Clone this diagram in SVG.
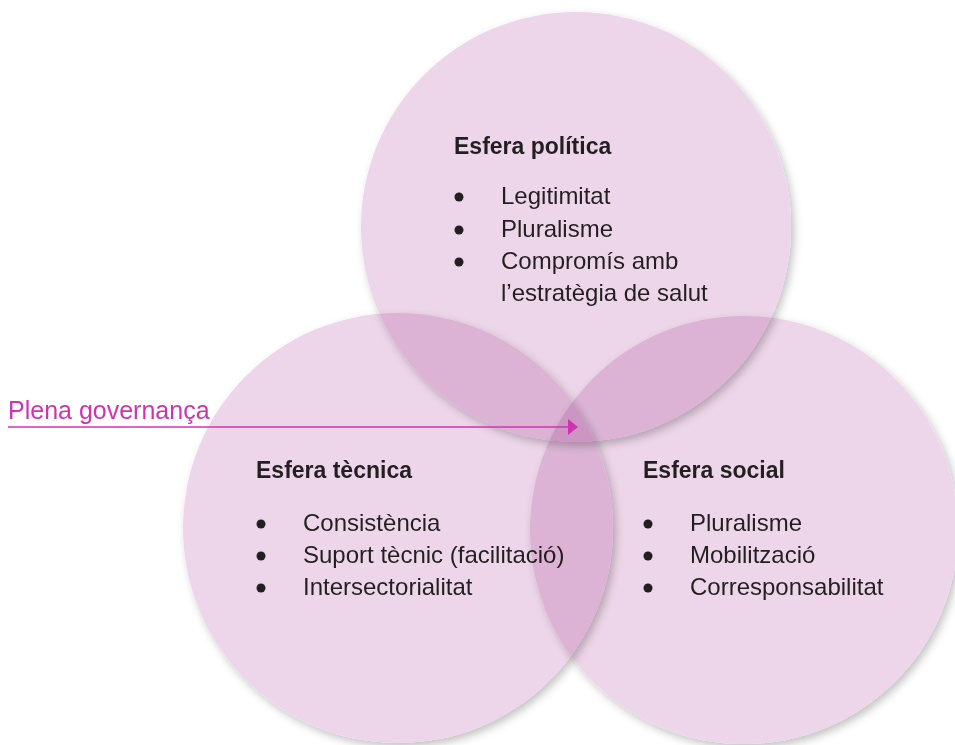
<svg xmlns="http://www.w3.org/2000/svg" width="955" height="745" viewBox="0 0 955 745">
  <defs>
    <filter id="sh" x="-10%" y="-10%" width="125%" height="125%">
      <feDropShadow dx="3" dy="4" stdDeviation="4.5" flood-color="#000" flood-opacity="0.24"/>
    </filter>
    <marker id="ah" viewBox="0 0 10 16" refX="9" refY="8" markerWidth="10" markerHeight="16" markerUnits="userSpaceOnUse" orient="auto">
      <path d="M0,0 L10,8 L0,16 Z" fill="#cf33b4"/>
    </marker>
  </defs>
  <style>
    .c { fill: #EDD6E9; mix-blend-mode: multiply; filter: url(#sh); }
    .t { font-family: "Liberation Sans", Arial, Helvetica, sans-serif; font-size: 23px; font-weight: bold; fill: #231f20; }
    .i { font-family: "Liberation Sans", Arial, Helvetica, sans-serif; font-size: 24px; fill: #231f20; }
    .b { fill: #231f20; }
    .lab { font-family: "Liberation Sans", Arial, Helvetica, sans-serif; font-size: 25px; fill: #cf33b4; }
  </style>
  <rect width="955" height="745" fill="#ffffff"/>

  <g id="esfera-politica">
    <circle class="c" cx="576" cy="227" r="215"/>
    <text class="t" x="454" y="154">Esfera política</text>
    <circle class="b" cx="459" cy="197" r="4.5"/>
    <text class="i" x="501" y="204">Legitimitat</text>
    <circle class="b" cx="459" cy="230" r="4.5"/>
    <text class="i" x="501" y="237">Pluralisme</text>
    <circle class="b" cx="459" cy="262" r="4.5"/>
    <text class="i" x="501" y="269">Compromís amb</text>
    <text class="i" x="501" y="301">l’estratègia de salut</text>
  </g>

  <g id="esfera-tecnica">
    <circle class="c" cx="398" cy="528" r="215"/>
    <text class="t" x="256" y="478">Esfera tècnica</text>
    <circle class="b" cx="261" cy="524" r="4.5"/>
    <text class="i" x="303" y="531">Consistència</text>
    <circle class="b" cx="261" cy="556" r="4.5"/>
    <text class="i" x="303" y="563">Suport tècnic (facilitació)</text>
    <circle class="b" cx="261" cy="588" r="4.5"/>
    <text class="i" x="303" y="595">Intersectorialitat</text>
  </g>

  <g id="esfera-social">
    <circle class="c" cx="744" cy="530" r="214"/>
    <text class="t" x="643" y="478">Esfera social</text>
    <circle class="b" cx="648" cy="524" r="4.5"/>
    <text class="i" x="690" y="531">Pluralisme</text>
    <circle class="b" cx="648" cy="556" r="4.5"/>
    <text class="i" x="690" y="563">Mobilització</text>
    <circle class="b" cx="648" cy="588" r="4.5"/>
    <text class="i" x="690" y="595">Corresponsabilitat</text>
  </g>

  <g id="plena-governanca">
    <text class="lab" x="8" y="419">Plena governança</text>
  </g>

  <g id="connectors">
    <line x1="8" y1="427" x2="577" y2="427" stroke="#cf33b4" stroke-width="1.6" marker-end="url(#ah)"/>
  </g>
</svg>
